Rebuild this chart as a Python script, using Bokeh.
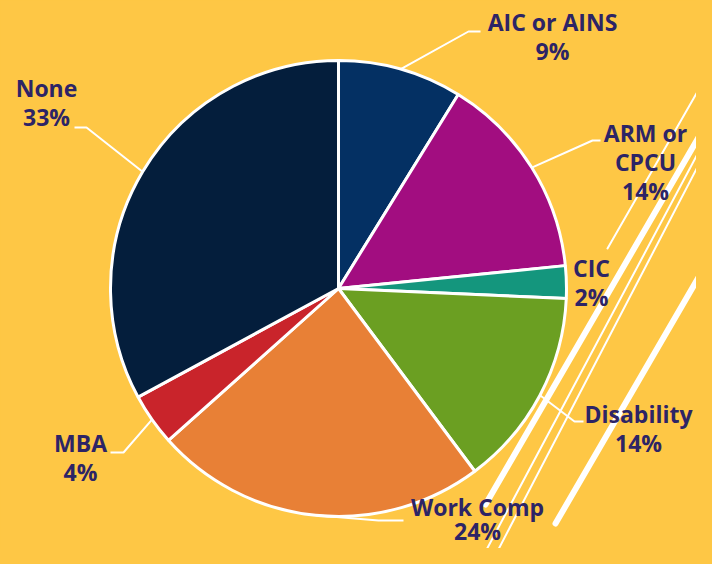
import math
from bokeh.plotting import figure
from bokeh.models import Range1d, ColumnDataSource
from bokeh.core.properties import value
from bokeh.embed import file_html
from bokeh.resources import INLINE

# ---------------- data ----------------
categories = ["AIC or AINS", "ARM or CPCU", "CIC", "Disability", "Work Comp", "MBA", "None"]
shares = [8.8, 14.6, 2.3, 14.1, 23.6, 3.7, 32.9]
pct_labels = ["9%", "14%", "2%", "14%", "24%", "4%", "33%"]
colors = ["#043063", "#A20D80", "#14967D", "#6B9F22", "#E88036", "#C9242B", "#041E3C"]

# ---------------- layout (reference pixel space, y downward) ----------------
H = 564
W_FIG, H_FIG = 696, 548
BG = "#FEC745"
TXT = "#2D2466"
CX, CY, R = 338, 288, 228
TEXT_SHIFT = 10  # svg text sits lower than the requested baseline

# label: wrapped lines, centre x, first baseline y, line step
label_layout = {
    "AIC or AINS": (["AIC or AINS"], 552, 31, 29.5),
    "ARM or CPCU": (["ARM or", "CPCU"], 645, 142, 29.0),
    "CIC": (["CIC"], 591, 277, 29.5),
    "Disability": (["Disability"], 638, 423, 29.0),
    "Work Comp": (["Work Comp"], 477, 516, 24.0),
    "MBA": (["MBA"], 80, 452, 29.5),
    "None": (["None"], 46, 97, 29.5),
}

# leader elbows (elbow point, end point); None = no leader
leader_layout = {
    "AIC or AINS": ((468, 31), (480, 31)),
    "ARM or CPCU": ((592, 140), (600, 140)),
    "CIC": None,
    "Disability": ((574, 421), (583, 421)),
    "Work Comp": ((378, 520), (403, 520)),
    "MBA": ((123, 452), (110, 452)),
    "None": ((86, 127), (74, 127)),
}

# decorative stripes: (x0, y0, x1, y1, width)
stripes = [
    (607, 248, 716, 58, 2),
    (485, 504, 716, 106, 6),
    (716, 118, 476, 568, 2),
    (716, 130, 488, 568, 2),
    (555, 523, 716, 246, 6),
]


def fy(y):
    return H - y


p = figure(width=W_FIG, height=H_FIG, output_backend="svg", toolbar_location=None,
           x_range=Range1d(0, W_FIG), y_range=Range1d(H - H_FIG, H), min_border=0)
p.background_fill_color = BG
p.border_fill_color = BG
p.outline_line_color = None
p.axis.visible = False
p.grid.visible = False

# stripes (decoration behind pie)
for x0, y0, x1, y1, w in stripes:
    p.line([x0, x1], [fy(y0), fy(y1)], line_color="white", line_width=w, line_cap="round")

# wedges
total = sum(shares)
starts, ends, mids = [], [], []
cum = 0.0
for s in shares:
    a0 = math.pi / 2 - cum / total * 2 * math.pi
    cum += s
    a1 = math.pi / 2 - cum / total * 2 * math.pi
    starts.append(a0)
    ends.append(a1)
    mids.append((a0 + a1) / 2)

src = ColumnDataSource(dict(start=starts, end=ends, color=colors, cat=categories, share=shares))
p.wedge(x=CX, y=fy(CY), radius=R, start_angle="start", end_angle="end", direction="clock",
        fill_color="color", line_color="white", line_width=3, source=src)

# leaders
for cat, m in zip(categories, mids):
    lay = leader_layout[cat]
    if lay is None:
        continue
    ex = CX + R * math.cos(m)
    ey = fy(CY) + R * math.sin(m)
    (bx, by), (tx, ty) = lay
    p.line([ex, bx, tx], [ey, fy(by), fy(ty)], line_color="white", line_width=2)

# labels
xs, ys, ts = [], [], []
for cat, pct in zip(categories, pct_labels):
    lines, lx, ly, step = label_layout[cat]
    for i, t in enumerate(lines + [pct]):
        xs.append(lx)
        ys.append(fy(ly + i * step - TEXT_SHIFT))
        ts.append(t)
p.text(x=xs, y=ys, text=ts, text_font=value("Open Sans"), text_font_style="bold",
       text_font_size="23px", text_color=TXT, text_align="center", text_baseline="alphabetic")

html = file_html(p, INLINE)
html = html.replace("</head>", "<style>html,body{background:%s;}</style></head>" % BG, 1)
open("out.html", "w").write(html)
